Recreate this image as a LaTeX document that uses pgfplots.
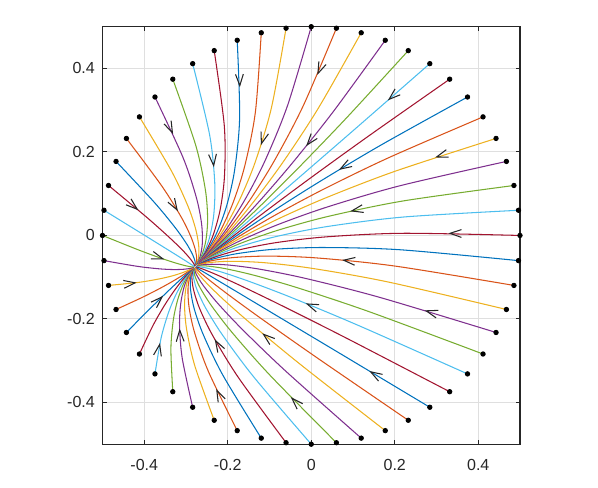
\documentclass[border=0pt]{standalone}
\usepackage{fontspec}
\setmainfont{Liberation Sans}
\usepackage{pgfplots}
\pgfplotsset{compat=1.18}
\usetikzlibrary{arrows.meta, decorations.markings}

\definecolor{mb}{RGB}{0,114,189}
\definecolor{mo}{RGB}{217,83,25}
\definecolor{my}{RGB}{237,177,32}
\definecolor{mp}{RGB}{126,47,142}
\definecolor{mg}{RGB}{119,172,48}
\definecolor{mc}{RGB}{77,190,238}
\definecolor{mr}{RGB}{162,20,47}
\definecolor{axgray}{RGB}{38,38,38}
\definecolor{gridgray}{RGB}{223,223,223}

\pgfplotsset{
  traj/.style={smooth, line width=0.5pt, no marks},
  flow/.style={draw=none, no marks, postaction={decorate},
    decoration={markings, mark=at position 1 with
      {\arrow[line width=0.5pt, black!85]{Straight Barb[length=1.9mm, width=1.3mm]}}}},
}

\begin{document}
\begin{tikzpicture}
\path[use as bounding box] (-1.708cm,-0.728cm) rectangle (8.258cm,7.403cm);
\begin{axis}[
  at={(0,0)}, anchor=south west,
  scale only axis, width=6.958cm, height=6.958cm,
  xmin=-0.5, xmax=0.5, ymin=-0.5, ymax=0.5,
  xtick={-0.4,-0.2,0,0.2,0.4}, ytick={-0.4,-0.2,0,0.2,0.4},
  xticklabels={-0.4,-0.2,0,0.2,0.4}, yticklabels={-0.4,-0.2,0,0.2,0.4},
  tick align=inside, major tick length=0.7mm,
  every tick/.style={axgray, line width=0.5pt},
  axis line style={axgray, line width=0.5pt},
  grid=major, grid style={gridgray, line width=0.5pt},
  every tick label/.append style={font=\fontsize{7.6}{9}\selectfont, text=axgray},
  xticklabel style={inner sep=0pt, anchor=north, yshift=-2.4mm},
  yticklabel style={inner sep=0pt, anchor=east, xshift=-1.2mm},
  clip=false,
]
% trajectories, in drawing order
\addplot[traj, mo] coordinates {(0.0603,0.4964) (-0.0188,0.3113) (-0.0868,0.1817) (-0.1427,0.0912) (-0.1932,0.0208) (-0.236,-0.0311) (-0.2688,-0.0657)};
\addplot[traj, my] coordinates {(0.1197,0.4855) (0.018,0.3065) (-0.0645,0.1801) (-0.1297,0.0913) (-0.1865,0.0214) (-0.2332,-0.0305) (-0.2683,-0.0654)};
\addplot[traj, mp] coordinates {(0.1773,0.4675) (0.0531,0.297) (-0.0436,0.1755) (-0.1176,0.0893) (-0.1805,0.0209) (-0.231,-0.0304) (-0.268,-0.0653)};
\addplot[traj, mg] coordinates {(0.2324,0.4427) (0.086,0.2832) (-0.0245,0.1681) (-0.1068,0.0856) (-0.1753,0.0195) (-0.2291,-0.0307) (-0.2677,-0.0653)};
\addplot[traj, mc] coordinates {(0.284,0.4115) (0.1162,0.2648) (-0.0074,0.1576) (-0.0975,0.0798) (-0.171,0.0168) (-0.2278,-0.0315) (-0.2675,-0.0654)};
\addplot[traj, mr] coordinates {(0.3316,0.3743) (0.1434,0.2424) (0.0076,0.1445) (-0.0897,0.0724) (-0.1677,0.0132) (-0.2268,-0.0329) (-0.2676,-0.0656)};
\addplot[traj, mb] coordinates {(0.3743,0.3316) (0.167,0.2165) (0.0201,0.1289) (-0.0836,0.0634) (-0.1655,0.0086) (-0.2264,-0.0347) (-0.2676,-0.0659)};
\addplot[traj, mo] coordinates {(0.4115,0.284) (0.1868,0.1868) (0.0299,0.1109) (-0.0794,0.0526) (-0.1642,0.0031) (-0.2265,-0.0369) (-0.2679,-0.0663)};
\addplot[traj, my] coordinates {(0.4427,0.2324) (0.2026,0.1544) (0.0369,0.0909) (-0.0769,0.0407) (-0.164,-0.0032) (-0.2271,-0.0395) (-0.2681,-0.0668)};
\addplot[traj, mp] coordinates {(0.4675,0.1773) (0.2139,0.1194) (0.041,0.069) (-0.0762,0.0274) (-0.1651,-0.0103) (-0.2282,-0.0424) (-0.2686,-0.0672)};
\addplot[traj, mg] coordinates {(0.4855,0.1197) (0.2206,0.0827) (0.0422,0.046) (-0.0775,0.0132) (-0.167,-0.018) (-0.2297,-0.0457) (-0.269,-0.0679)};
\addplot[traj, mc] coordinates {(0.4964,0.0603) (0.2229,0.0443) (0.0405,0.0217) (-0.0806,-0.0018) (-0.1701,-0.0262) (-0.2317,-0.0493) (-0.2697,-0.0686)};
\addplot[traj, mr] coordinates {(0.5,0) (0.2204,0.0052) (0.0357,-0.0034) (-0.0856,-0.0174) (-0.1741,-0.0349) (-0.2342,-0.053) (-0.2704,-0.0694)};
\addplot[traj, mb] coordinates {(0.4964,-0.0603) (0.2133,-0.0343) (0.0281,-0.0289) (-0.0923,-0.0334) (-0.179,-0.0438) (-0.2371,-0.057) (-0.2711,-0.0701)};
\addplot[traj, mo] coordinates {(0.4855,-0.1197) (0.2017,-0.0735) (0.0177,-0.0542) (-0.1006,-0.0495) (-0.1848,-0.0528) (-0.2402,-0.0609) (-0.2719,-0.071)};
\addplot[traj, my] coordinates {(0.4675,-0.1773) (0.1857,-0.1118) (0.0047,-0.0792) (-0.1105,-0.0654) (-0.1914,-0.0619) (-0.2437,-0.065) (-0.2728,-0.0719)};
\addplot[traj, mp] coordinates {(0.4427,-0.2324) (0.1657,-0.1488) (-0.0107,-0.1036) (-0.1217,-0.0811) (-0.1987,-0.0708) (-0.2474,-0.0691) (-0.2737,-0.0727)};
\addplot[traj, mg] coordinates {(0.4115,-0.284) (0.1418,-0.1837) (-0.0283,-0.1268) (-0.1341,-0.0961) (-0.2065,-0.0794) (-0.2513,-0.0731) (-0.2746,-0.0735)};
\addplot[traj, mc] coordinates {(0.3743,-0.3316) (0.1145,-0.2162) (-0.0477,-0.1486) (-0.1477,-0.1104) (-0.2147,-0.0877) (-0.2554,-0.077) (-0.2755,-0.0743)};
\addplot[traj, mr] coordinates {(0.3316,-0.3743) (0.084,-0.2458) (-0.069,-0.1688) (-0.162,-0.1237) (-0.2234,-0.0955) (-0.2596,-0.0806) (-0.2765,-0.0751)};
\addplot[traj, mb] coordinates {(0.284,-0.4115) (0.0509,-0.2719) (-0.0916,-0.1868) (-0.1769,-0.1357) (-0.2323,-0.1027) (-0.2637,-0.084) (-0.2774,-0.0759)};
\addplot[traj, mo] coordinates {(0.2324,-0.4427) (0.0158,-0.2943) (-0.1151,-0.2025) (-0.1923,-0.1465) (-0.2412,-0.1092) (-0.2679,-0.0872) (-0.2782,-0.0766)};
\addplot[traj, my] coordinates {(0.1773,-0.4675) (-0.0212,-0.3127) (-0.1393,-0.2157) (-0.2079,-0.1556) (-0.25,-0.1149) (-0.2719,-0.0899) (-0.2791,-0.0773)};
\addplot[traj, mp] coordinates {(0.1197,-0.4855) (-0.0591,-0.3268) (-0.1639,-0.2262) (-0.2234,-0.1632) (-0.2588,-0.1196) (-0.2757,-0.0924) (-0.2799,-0.0779)};
\addplot[traj, mg] coordinates {(0.0603,-0.4964) (-0.0975,-0.3362) (-0.1884,-0.2338) (-0.2386,-0.1688) (-0.2671,-0.1235) (-0.2794,-0.0944) (-0.2806,-0.0783)};
\addplot[traj, mc] coordinates {(0,-0.5) (-0.136,-0.341) (-0.2125,-0.2385) (-0.2534,-0.1728) (-0.275,-0.1263) (-0.2827,-0.0959) (-0.2813,-0.0788)};
\addplot[traj, mr] coordinates {(-0.0603,-0.4964) (-0.1739,-0.3411) (-0.2359,-0.24) (-0.2674,-0.1748) (-0.2824,-0.128) (-0.2858,-0.097) (-0.2818,-0.0791)};
\addplot[traj, mb] coordinates {(-0.1197,-0.4855) (-0.2107,-0.3364) (-0.2582,-0.2385) (-0.2805,-0.1748) (-0.2892,-0.1286) (-0.2885,-0.0976) (-0.2823,-0.0793)};
\addplot[traj, mo] coordinates {(-0.1773,-0.4675) (-0.2458,-0.327) (-0.279,-0.234) (-0.2925,-0.1729) (-0.2952,-0.1282) (-0.2907,-0.0978) (-0.2827,-0.0795)};
\addplot[traj, my] coordinates {(-0.2324,-0.4427) (-0.2786,-0.3131) (-0.2982,-0.2265) (-0.3034,-0.1691) (-0.3004,-0.1267) (-0.2926,-0.0974) (-0.2829,-0.0795)};
\addplot[traj, mp] coordinates {(-0.284,-0.4115) (-0.3089,-0.2947) (-0.3154,-0.216) (-0.3126,-0.1634) (-0.3047,-0.1241) (-0.294,-0.0965) (-0.2831,-0.0794)};
\addplot[traj, mg] coordinates {(-0.3316,-0.3743) (-0.3361,-0.2723) (-0.3304,-0.2029) (-0.3204,-0.156) (-0.3079,-0.1204) (-0.2949,-0.0953) (-0.2831,-0.0792)};
\addplot[traj, mc] coordinates {(-0.3743,-0.3316) (-0.3597,-0.2462) (-0.3428,-0.1873) (-0.3265,-0.1468) (-0.3102,-0.1159) (-0.2953,-0.0935) (-0.2831,-0.0789)};
\addplot[traj, mr] coordinates {(-0.4115,-0.284) (-0.3795,-0.2166) (-0.3526,-0.1693) (-0.3308,-0.1362) (-0.3115,-0.1104) (-0.2952,-0.0912) (-0.2828,-0.0785)};
\addplot[traj, mb] coordinates {(-0.4427,-0.2324) (-0.3952,-0.1843) (-0.3596,-0.1494) (-0.3333,-0.1242) (-0.3115,-0.104) (-0.2946,-0.0886) (-0.2826,-0.078)};
\addplot[traj, mo] coordinates {(-0.4675,-0.1773) (-0.4065,-0.1492) (-0.3637,-0.1275) (-0.3339,-0.111) (-0.3106,-0.097) (-0.2936,-0.0857) (-0.2821,-0.0774)};
\addplot[traj, my] coordinates {(-0.4855,-0.1197) (-0.4133,-0.1124) (-0.365,-0.1043) (-0.3327,-0.0968) (-0.3087,-0.0893) (-0.2919,-0.0825) (-0.2816,-0.0768)};
\addplot[traj, mp] coordinates {(-0.4964,-0.0603) (-0.4156,-0.0741) (-0.3631,-0.08) (-0.3296,-0.0817) (-0.3056,-0.081) (-0.2899,-0.0789) (-0.281,-0.0762)};
\addplot[traj, mg] coordinates {(-0.5,0) (-0.4131,-0.0349) (-0.3584,-0.055) (-0.3245,-0.0661) (-0.3016,-0.0724) (-0.2875,-0.0751) (-0.2803,-0.0754)};
\addplot[traj, mc] coordinates {(-0.4964,0.0603) (-0.406,0.0046) (-0.3509,-0.0296) (-0.3179,-0.0501) (-0.2967,-0.0635) (-0.2847,-0.0712) (-0.2795,-0.0745)};
\addplot[traj, mr] coordinates {(-0.4855,0.1197) (-0.3943,0.0437) (-0.3405,-0.0042) (-0.3095,-0.034) (-0.2909,-0.0545) (-0.2815,-0.0672) (-0.2787,-0.0738)};
\addplot[traj, mb] coordinates {(-0.4675,0.1773) (-0.3783,0.082) (-0.3275,0.0209) (-0.2997,-0.0181) (-0.2843,-0.0454) (-0.278,-0.0631) (-0.2779,-0.0729)};
\addplot[traj, mo] coordinates {(-0.4427,0.2324) (-0.3583,0.119) (-0.3121,0.0452) (-0.2885,-0.0024) (-0.277,-0.0365) (-0.2742,-0.059) (-0.277,-0.0721)};
\addplot[traj, my] coordinates {(-0.4115,0.284) (-0.3345,0.1539) (-0.2945,0.0683) (-0.2761,0.0126) (-0.2692,-0.0279) (-0.2703,-0.055) (-0.276,-0.0711)};
\addplot[traj, mp] coordinates {(-0.3743,0.3316) (-0.307,0.1864) (-0.275,0.0902) (-0.2625,0.0269) (-0.2609,-0.0195) (-0.2663,-0.0512) (-0.275,-0.0703)};
\addplot[traj, mg] coordinates {(-0.3316,0.3743) (-0.2767,0.216) (-0.2537,0.1103) (-0.2482,0.0402) (-0.2523,-0.0118) (-0.2622,-0.0475) (-0.2742,-0.0695)};
\addplot[traj, mc] coordinates {(-0.284,0.4115) (-0.2436,0.2421) (-0.2312,0.1283) (-0.2332,0.0521) (-0.2434,-0.0046) (-0.258,-0.0441) (-0.2733,-0.0688)};
\addplot[traj, mr] coordinates {(-0.2324,0.4427) (-0.2084,0.2645) (-0.2077,0.144) (-0.2179,0.0629) (-0.2345,0.0019) (-0.2539,-0.041) (-0.2723,-0.068)};
\addplot[traj, mb] coordinates {(-0.1773,0.4675) (-0.1715,0.2829) (-0.1834,0.1572) (-0.2023,0.072) (-0.2257,0.0076) (-0.2499,-0.0382) (-0.2715,-0.0675)};
\addplot[traj, mo] coordinates {(-0.1197,0.4855) (-0.1336,0.297) (-0.1589,0.1678) (-0.1868,0.0796) (-0.2169,0.0124) (-0.246,-0.0358) (-0.2707,-0.0669)};
\addplot[traj, my] coordinates {(-0.0603,0.4964) (-0.0952,0.3065) (-0.1343,0.1754) (-0.1716,0.0853) (-0.2086,0.0162) (-0.2424,-0.0337) (-0.27,-0.0663)};
\addplot[traj, mp] coordinates {(0,0.5) (-0.0567,0.3113) (-0.1102,0.18) (-0.1568,0.0892) (-0.2006,0.019) (-0.239,-0.0322) (-0.2694,-0.0659)};

% direction arrows (short pieces of every other trajectory)
\addplot[flow] coordinates {(0.3752,0.0044) (0.3286,0.0052)};
\addplot[flow] coordinates {(0.1336,0.0663) (0.0933,0.0578)};
\addplot[flow] coordinates {(0.3367,0.1998) (0.2967,0.1868)};
\addplot[flow] coordinates {(0.0996,0.177) (0.0663,0.1571)};
\addplot[flow] coordinates {(0.2114,0.3478) (0.1834,0.3234)};
\addplot[flow] coordinates {(0.0097,0.2414) (-0.0123,0.2138)};
\addplot[flow] coordinates {(0.0278,0.4153) (0.0146,0.3844)};
\addplot[flow] coordinates {(-0.1114,0.2459) (-0.1205,0.2162)};
\addplot[flow] coordinates {(-0.172,0.3858) (-0.171,0.355)};
\addplot[flow] coordinates {(-0.2359,0.1891) (-0.2333,0.1634)};
\addplot[flow] coordinates {(-0.3421,0.2668) (-0.3309,0.2427)};
\addplot[flow] coordinates {(-0.3292,0.0743) (-0.3193,0.0579)};
\addplot[flow] coordinates {(-0.4285,0.0727) (-0.4139,0.0603)};
\addplot[flow] coordinates {(-0.3631,-0.0535) (-0.3516,-0.0574)};
\addplot[flow] coordinates {(-0.4295,-0.1145) (-0.418,-0.113)};
\addplot[flow] coordinates {(-0.3629,-0.1526) (-0.3547,-0.1446)};
\addplot[flow] coordinates {(-0.365,-0.2713) (-0.3622,-0.2572)};
\addplot[flow] coordinates {(-0.3145,-0.2403) (-0.3153,-0.2229)};
\addplot[flow] coordinates {(-0.2168,-0.3907) (-0.2278,-0.3675)};
\addplot[flow] coordinates {(-0.2184,-0.271) (-0.2312,-0.2487)};
\addplot[flow] coordinates {(-0.0231,-0.4136) (-0.049,-0.3872)};
\addplot[flow] coordinates {(-0.0915,-0.2556) (-0.1173,-0.2343)};
\addplot[flow] coordinates {(0.1779,-0.3479) (0.1392,-0.3247)};
\addplot[flow] coordinates {(0.0226,-0.1773) (-0.0133,-0.1626)};
\addplot[flow] coordinates {(0.3179,-0.1933) (0.2717,-0.1794)};
\addplot[flow] coordinates {(0.1153,-0.0631) (0.0738,-0.0589)};

% start points on the circle r = 0.5
\addplot[only marks, mark=*, mark size=1.05pt, black] coordinates {
(0.5,0) (0.4964,0.0603) (0.4855,0.1197) (0.4675,0.1773) (0.4427,0.2324) (0.4115,0.284)
(0.3743,0.3316) (0.3316,0.3743) (0.284,0.4115) (0.2324,0.4427) (0.1773,0.4675) (0.1197,0.4855)
(0.0603,0.4964) (0,0.5) (-0.0603,0.4964) (-0.1197,0.4855) (-0.1773,0.4675) (-0.2324,0.4427)
(-0.284,0.4115) (-0.3316,0.3743) (-0.3743,0.3316) (-0.4115,0.284) (-0.4427,0.2324) (-0.4675,0.1773)
(-0.4855,0.1197) (-0.4964,0.0603) (-0.5,0) (-0.4964,-0.0603) (-0.4855,-0.1197) (-0.4675,-0.1773)
(-0.4427,-0.2324) (-0.4115,-0.284) (-0.3743,-0.3316) (-0.3316,-0.3743) (-0.284,-0.4115) (-0.2324,-0.4427)
(-0.1773,-0.4675) (-0.1197,-0.4855) (-0.0603,-0.4964) (0,-0.5) (0.0603,-0.4964) (0.1197,-0.4855)
(0.1773,-0.4675) (0.2324,-0.4427) (0.284,-0.4115) (0.3316,-0.3743) (0.3743,-0.3316) (0.4115,-0.284)
(0.4427,-0.2324) (0.4675,-0.1773) (0.4855,-0.1197) (0.4964,-0.0603)};
\end{axis}
\end{tikzpicture}
\end{document}
